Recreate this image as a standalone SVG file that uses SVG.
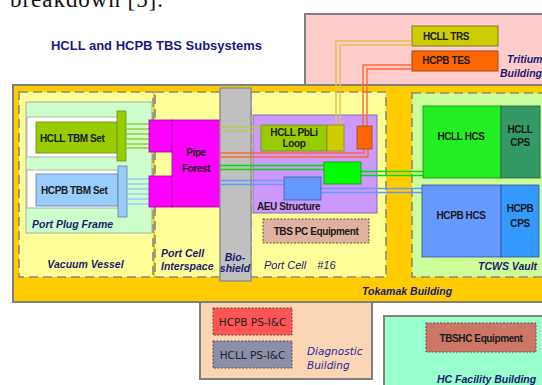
<svg xmlns="http://www.w3.org/2000/svg" width="542" height="385" viewBox="0 0 542 385">
<style>
.bld{stroke:#808080;stroke-width:2}
.dash{stroke:#8a8a7a;stroke-width:1.6;stroke-dasharray:9,5}
.lbl{font-family:"Liberation Sans",Arial,sans-serif;font-weight:bold;font-style:italic;font-size:10.5px;fill:#1a1a6e}
.nd{font-family:"Liberation Sans",Arial,sans-serif;font-weight:bold;font-size:10px;fill:#1a1a1a;letter-spacing:-0.4px}
.ndc{font-family:"Liberation Sans",Arial,sans-serif;font-weight:bold;font-size:10px;fill:#1a1a1a;letter-spacing:-0.4px;text-anchor:middle}
.ps{font-family:"DejaVu Sans",Verdana,sans-serif;font-size:10.5px;fill:#222;text-anchor:middle}
.eq{stroke:#6a4a40;stroke-width:1;stroke-dasharray:2,1.5}
.p{fill:none;stroke-width:1.4}
</style>
<rect width="542" height="385" fill="#ffffff"/>
<text x="10" y="7" font-family="'Liberation Serif','Times New Roman',serif" font-size="23" fill="#111" textLength="153">breakdown [5].</text>
<text x="51" y="49.5" font-family="'Liberation Sans',Arial,sans-serif" font-weight="bold" font-size="13" fill="#1a1a80" textLength="211">HCLL and HCPB TBS Subsystems</text>

<g id="tritium-building">
<rect x="305" y="14" width="240" height="71" fill="#ffcccc" class="bld"/>
<text x="507" y="63" class="lbl" font-size="10">Tritium</text>
<text x="500" y="77" class="lbl" font-size="10">Building</text>
</g>
<g id="hcll-trs">
<rect x="412" y="26" width="86" height="20" fill="#cccc00" stroke="#7a7a30" stroke-width="1"/>
<text x="446" y="40" class="ndc">HCLL TRS</text>
</g>
<g id="hcpb-tes">
<rect x="412" y="51" width="86" height="20" fill="#ff6600" stroke="#9a4a20" stroke-width="1"/>
<text x="446" y="64" class="ndc">HCPB TES</text>
</g>

<g id="tokamak-building">
<rect x="13" y="85" width="532" height="217" fill="#ffcc00" class="bld"/>
<text x="362" y="295" class="lbl" font-size="10">Tokamak Building</text>
</g>
<g id="vacuum-vessel">
<rect x="19" y="92" width="134" height="185" fill="#ffff99" class="dash"/>
<text x="85.5" y="268" class="lbl" text-anchor="middle">Vacuum Vessel</text>
</g>
<g id="port-plug-frame">
<rect x="26" y="102" width="126" height="131" fill="#ccffcc" stroke="#a0b0a0" stroke-width="1"/>
<text x="32" y="228" class="lbl" font-size="10" fill="#1a2a8a">Port Plug Frame</text>
</g>
<g id="hcll-tbm-set">
<rect x="27" y="117" width="91" height="40" fill="#ffffff" stroke="#a0a0a0" stroke-width="0.8"/>
<rect x="36" y="122" width="82" height="31" fill="#99cc00" stroke="#6a8a20" stroke-width="0.8"/>
<rect x="117" y="111" width="9" height="50" fill="#99cc00" stroke="#6a8a20" stroke-width="0.8"/>
<text x="40" y="142" class="nd">HCLL TBM Set</text>
</g>
<g id="hcpb-tbm-set">
<rect x="27" y="170" width="91" height="38" fill="#ffffff" stroke="#a0a0a0" stroke-width="0.8"/>
<rect x="36" y="174" width="82" height="32" fill="#99ccff" stroke="#6080a0" stroke-width="0.8"/>
<rect x="118" y="166" width="9" height="51" fill="#99ccff" stroke="#6080a0" stroke-width="0.8"/>
<text x="41" y="194" class="nd">HCPB TBM Set</text>
</g>
<g id="port-cell-interspace">
<rect x="155" y="92" width="66" height="185" fill="#ffff99" class="dash"/>
<text x="161" y="257" class="lbl">Port Cell</text>
<text x="161" y="270" class="lbl">Interspace</text>
</g>
<g id="port-cell-16">
<rect x="251" y="92" width="135" height="185" fill="#ffff99" class="dash"/>
<text x="264" y="269" font-family="'Liberation Sans',Arial,sans-serif" font-style="italic" font-size="11" fill="#1a1a6e">Port Cell  <tspan dx="8">#16</tspan></text>
</g>
<g id="tcws-vault">
<rect x="412" y="93" width="134" height="184" fill="#ccff99" class="dash"/>
<text x="478" y="270" class="lbl">TCWS Vault</text>
</g>
<g id="aeu-structure">
<rect x="253" y="115" width="124" height="98" fill="#cc99ff" stroke="#8a70a8" stroke-width="1"/>
<text x="257" y="210" class="nd" fill="#1a1a40">AEU Structure</text>
</g>
<g id="tbs-pc-equipment">
<rect x="263" y="219" width="106" height="24" fill="#e0b0a0" class="eq"/>
<text x="316" y="235" class="ndc" fill="#3a2a2a" font-weight="bold">TBS PC Equipment</text>
</g>

<g id="connectors">
<g stroke="#99cc33" stroke-width="1.5">
<line x1="126" y1="124" x2="149" y2="124"/><line x1="126" y1="129" x2="149" y2="129"/><line x1="126" y1="134" x2="149" y2="134"/><line x1="126" y1="139" x2="149" y2="139"/><line x1="126" y1="144" x2="149" y2="144"/><line x1="126" y1="148" x2="149" y2="148"/>
</g>
<g stroke="#99ccff" stroke-width="1.5">
<line x1="127" y1="179" x2="149" y2="179"/><line x1="127" y1="184" x2="149" y2="184"/><line x1="127" y1="189" x2="149" y2="189"/><line x1="127" y1="194" x2="149" y2="194"/><line x1="127" y1="199" x2="149" y2="199"/><line x1="127" y1="204" x2="149" y2="204"/>
</g>
<path class="p" stroke="#b8c860" d="M220 127 H262"/>
<path class="p" stroke="#b8c860" d="M220 131 H262"/>
<path class="p" stroke="#e0c050" d="M336 125 V41 H412"/>
<path class="p" stroke="#e0c050" d="M340 125 V45 H412"/>
<path class="p" stroke="#ff6633" d="M363 126 V65 H412"/>
<path class="p" stroke="#ff6633" d="M367 126 V69 H412"/>
<path class="p" stroke="#ff6633" d="M220 153 H364 V149"/>
<path class="p" stroke="#ff6633" d="M220 157 H368 V149"/>
<path class="p" stroke="#00dd00" stroke-width="2" d="M220 165.5 H324"/>
<path class="p" stroke="#00dd00" stroke-width="2" d="M220 169.5 H324"/>
<path class="p" stroke="#00dd00" stroke-width="2" d="M361 171.5 H423"/>
<path class="p" stroke="#00dd00" stroke-width="2" d="M361 175.5 H423"/>
<path class="p" stroke="#6699ff" stroke-width="1.8" d="M220 180.5 H284"/>
<path class="p" stroke="#6699ff" stroke-width="1.8" d="M220 184.5 H284"/>
<path class="p" stroke="#6699ff" stroke-width="1.8" d="M321 188.5 H422"/>
<path class="p" stroke="#6699ff" stroke-width="1.8" d="M321 192.5 H422"/>
</g>

<g id="pipe-forest">
<rect x="149" y="120" width="23" height="32" fill="#ff00ff" stroke="#a000a0" stroke-width="0.8"/>
<rect x="149" y="176" width="23" height="31" fill="#ff00ff" stroke="#a000a0" stroke-width="0.8"/>
<rect x="172" y="120" width="48" height="87" fill="#ff00ff" stroke="#a000a0" stroke-width="0.8"/>
<text x="196" y="156" class="ndc" font-size="11" fill="#3a0a3a" font-weight="normal">Pipe</text>
<text x="196" y="172" class="ndc" font-size="11" fill="#3a0a3a" font-weight="normal">Forest</text>
</g>
<g id="bio-shield">
<rect x="220" y="88" width="31" height="193" fill="#c0c0c0" stroke="#909090" stroke-width="1.5"/>
<path class="p" stroke="#b8c860" d="M220 127 H251 M220 131 H251"/>
<path class="p" stroke="#ff6633" d="M220 153 H251 M220 157 H251"/>
<path class="p" stroke="#00dd00" stroke-width="2" d="M220 165.5 H251 M220 169.5 H251"/>
<path class="p" stroke="#6699ff" stroke-width="1.8" d="M220 180.5 H251 M220 184.5 H251"/>
<text x="235" y="261" class="lbl" text-anchor="middle" font-size="10">Bio-</text>
<text x="235" y="272" class="lbl" text-anchor="middle" font-size="10">shield</text>
</g>
<g id="hcll-pbli-loop">
<rect x="261" y="125" width="66" height="26" fill="#99cc00" stroke="#6a8a20" stroke-width="0.8"/>
<rect x="327" y="125" width="17" height="26" fill="#cccc00" stroke="#8a8a20" stroke-width="0.8"/>
<text x="294" y="136" class="ndc">HCLL PbLi</text>
<text x="294" y="147" class="ndc">Loop</text>
</g>
<g id="aeu-orange">
<rect x="357" y="126" width="15" height="23" fill="#ff6600" stroke="#9a4a20" stroke-width="0.8"/>
</g>
<g id="aeu-green">
<rect x="324" y="162" width="37" height="22" fill="#00ff00" stroke="#209020" stroke-width="0.8"/>
</g>
<g id="aeu-blue">
<rect x="284" y="177" width="37" height="23" fill="#6699ff" stroke="#4060a0" stroke-width="0.8"/>
</g>
<g id="hcll-hcs">
<rect x="423" y="106" width="78" height="72" fill="#22ee22" stroke="#208020" stroke-width="0.8"/>
<text x="461" y="140" class="ndc">HCLL HCS</text>
</g>
<g id="hcll-cps">
<rect x="501" y="106" width="39" height="72" fill="#339966" stroke="#206040" stroke-width="0.8"/>
<text x="520" y="133" class="ndc">HCLL</text>
<text x="520" y="146" class="ndc">CPS</text>
</g>
<g id="hcpb-hcs">
<rect x="422" y="185" width="79" height="72" fill="#6699ff" stroke="#3050a0" stroke-width="0.8"/>
<text x="461" y="219" class="ndc">HCPB HCS</text>
</g>
<g id="hcpb-cps">
<rect x="501" y="185" width="38" height="72" fill="#3399ff" stroke="#3050a0" stroke-width="0.8"/>
<text x="520" y="212" class="ndc">HCPB</text>
<text x="520" y="227" class="ndc">CPS</text>
</g>

<g id="diagnostic-building">
<rect x="200" y="302" width="172" height="77" fill="#fcd5b4" class="bld"/>
<text x="307" y="355" font-family="'DejaVu Sans',Verdana,sans-serif" font-style="italic" font-size="10.5" fill="#2a2a9a">Diagnostic</text>
<text x="307" y="369" font-family="'DejaVu Sans',Verdana,sans-serif" font-style="italic" font-size="10.5" fill="#2a2a9a">Building</text>
</g>
<g id="hcpb-ps-ic">
<rect x="213" y="308" width="79" height="27" fill="#ff5555" class="eq" stroke="#7a4040"/>
<text x="252.5" y="326" class="ps">HCPB PS-I&amp;C</text>
</g>
<g id="hcll-ps-ic">
<rect x="213" y="341" width="79" height="27" fill="#8a8ea8" class="eq" stroke="#505060"/>
<text x="252.5" y="359" class="ps">HCLL PS-I&amp;C</text>
</g>
<g id="hc-facility-building">
<rect x="384" y="316" width="162" height="75" fill="#99ffcc" class="bld"/>
<text x="437" y="383" class="lbl">HC Facility Building</text>
</g>
<g id="tbs-hc-equipment">
<rect x="426" y="323" width="110" height="29" fill="#cc7766" class="eq"/>
<text x="481" y="342" class="ndc">TBSHC Equipment</text>
</g>
</svg>
